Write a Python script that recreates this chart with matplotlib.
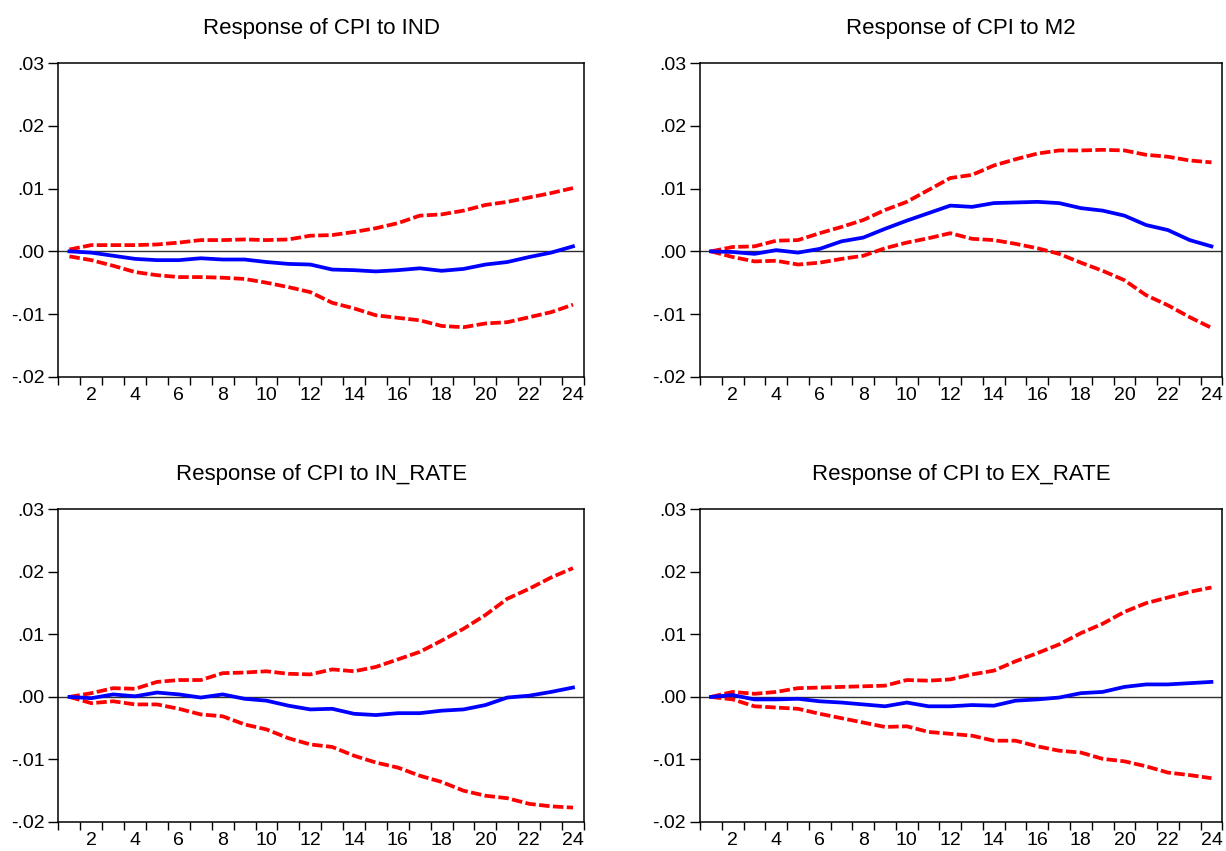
import numpy as np
import matplotlib.pyplot as plt
from matplotlib.ticker import FixedLocator, FuncFormatter

plt.rcParams['font.family'] = ['Liberation Sans', 'DejaVu Sans']

periods = np.arange(1, 25)

titles = ['Response of CPI to IND', 'Response of CPI to M2',
          'Response of CPI to IN_RATE', 'Response of CPI to EX_RATE']

# impulse responses (point estimate)
ind_mid = [0.0000, -0.0002, -0.0007, -0.0012, -0.0014, -0.0014, -0.0011, -0.0013,
           -0.0013, -0.0017, -0.0020, -0.0021, -0.0029, -0.0030, -0.0032, -0.0030,
           -0.0027, -0.0031, -0.0028, -0.0021, -0.0017, -0.0009, -0.0002, 0.0008]
ind_hi = [0.0003, 0.0010, 0.0010, 0.0010, 0.0011, 0.0014, 0.0018, 0.0018,
          0.0019, 0.0018, 0.0019, 0.0025, 0.0026, 0.0031, 0.0037, 0.0045,
          0.0057, 0.0059, 0.0065, 0.0074, 0.0079, 0.0086, 0.0093, 0.0101]
ind_lo = [-0.0008, -0.0014, -0.0023, -0.0033, -0.0038, -0.0041, -0.0041, -0.0042,
          -0.0044, -0.0050, -0.0057, -0.0065, -0.0082, -0.0091, -0.0102, -0.0106,
          -0.0110, -0.0119, -0.0121, -0.0115, -0.0113, -0.0105, -0.0097, -0.0085]

m2_mid = [0.0000, -0.0001, -0.0004, 0.0002, -0.0002, 0.0004, 0.0016, 0.0022,
          0.0036, 0.0049, 0.0061, 0.0073, 0.0071, 0.0077, 0.0078, 0.0079,
          0.0077, 0.0069, 0.0065, 0.0057, 0.0042, 0.0034, 0.0018, 0.0008]
m2_hi = [0.0000, 0.0007, 0.0008, 0.0017, 0.0018, 0.0029, 0.0039, 0.0050,
         0.0066, 0.0079, 0.0098, 0.0117, 0.0122, 0.0137, 0.0147, 0.0156,
         0.0161, 0.0161, 0.0162, 0.0161, 0.0154, 0.0151, 0.0145, 0.0142]
m2_lo = [0.0000, -0.0009, -0.0016, -0.0015, -0.0021, -0.0018, -0.0012, -0.0007,
         0.0005, 0.0014, 0.0021, 0.0029, 0.0020, 0.0018, 0.0012, 0.0005,
         -0.0004, -0.0018, -0.0031, -0.0046, -0.0070, -0.0086, -0.0105, -0.0122]

inr_mid = [0.0000, -0.0002, 0.0004, 0.0001, 0.0007, 0.0004, -0.0001, 0.0004,
           -0.0003, -0.0006, -0.0014, -0.0020, -0.0019, -0.0027, -0.0029, -0.0026,
           -0.0026, -0.0022, -0.0020, -0.0013, -0.0001, 0.0002, 0.0008, 0.0015]
inr_hi = [0.0000, 0.0006, 0.0014, 0.0013, 0.0024, 0.0027, 0.0027, 0.0038,
          0.0039, 0.0041, 0.0037, 0.0036, 0.0044, 0.0041, 0.0048, 0.0060,
          0.0072, 0.0090, 0.0109, 0.0131, 0.0157, 0.0173, 0.0191, 0.0206]
inr_lo = [0.0000, -0.0010, -0.0007, -0.0012, -0.0012, -0.0019, -0.0028, -0.0031,
          -0.0044, -0.0052, -0.0066, -0.0076, -0.0080, -0.0094, -0.0105, -0.0113,
          -0.0126, -0.0136, -0.0150, -0.0158, -0.0162, -0.0171, -0.0175, -0.0177]

exr_mid = [0.0000, 0.0003, -0.0004, -0.0004, -0.0003, -0.0007, -0.0009, -0.0012,
           -0.0015, -0.0009, -0.0015, -0.0015, -0.0013, -0.0014, -0.0006, -0.0004,
           -0.0001, 0.0006, 0.0008, 0.0016, 0.0020, 0.0020, 0.0022, 0.0024]
exr_hi = [0.0000, 0.0008, 0.0005, 0.0008, 0.0014, 0.0015, 0.0016, 0.0017,
          0.0018, 0.0027, 0.0026, 0.0028, 0.0036, 0.0042, 0.0057, 0.0070,
          0.0084, 0.0102, 0.0117, 0.0136, 0.0150, 0.0159, 0.0168, 0.0175]
exr_lo = [0.0000, -0.0004, -0.0015, -0.0017, -0.0019, -0.0027, -0.0034, -0.0041,
          -0.0048, -0.0047, -0.0056, -0.0059, -0.0062, -0.0070, -0.0070, -0.0079,
          -0.0086, -0.0089, -0.0099, -0.0103, -0.0111, -0.0121, -0.0125, -0.0130]

panels = [(ind_mid, ind_lo, ind_hi), (m2_mid, m2_lo, m2_hi),
          (inr_mid, inr_lo, inr_hi), (exr_mid, exr_lo, exr_hi)]

fig = plt.figure(figsize=(12.26, 8.51), dpi=100)

# axes boxes in figure fractions [left, bottom, width, height]
boxes = [[0.0477, 0.5573, 0.4286, 0.3683],
         [0.5710, 0.5573, 0.4260, 0.3683],
         [0.0477, 0.0341, 0.4286, 0.3674],
         [0.5710, 0.0341, 0.4260, 0.3674]]


def fmt_y(v, pos):
    s = '%.2f' % v
    s = s.replace('0.', '.', 1)
    return s


for box, title, (mid, lo, hi) in zip(boxes, titles, panels):
    ax = fig.add_axes(box)
    ax.axhline(0, color='#303030', linewidth=1.0, zorder=1)
    for band in (hi, lo):
        ax.plot(periods, band, color='#ff0000', linewidth=2.7,
                linestyle=(0, (2.8, 0.9)), dash_capstyle='butt', zorder=2)
    ax.plot(periods, mid, color='#0000ff', linewidth=2.7, zorder=3)

    ax.set_xlim(0.5, 24.5)
    ax.set_ylim(-0.02, 0.03)
    ax.set_yticks([-0.02, -0.01, 0.0, 0.01, 0.02, 0.03])
    ax.yaxis.set_major_formatter(FuncFormatter(fmt_y))

    # tick marks at period boundaries, labels at even periods
    ax.xaxis.set_major_locator(FixedLocator(np.arange(2, 25, 2)))
    ax.xaxis.set_minor_locator(FixedLocator(np.arange(0.5, 25, 1)))
    ax.tick_params(axis='x', which='major', length=0, pad=7.5, labelsize=14)
    ax.tick_params(axis='x', which='minor', length=6, width=1, direction='out')
    ax.tick_params(axis='y', length=7, width=1, pad=3, labelsize=14)

    for sp in ax.spines.values():
        sp.set_linewidth(1.1)
        sp.set_color('black')

    ax.set_title(title, fontsize=16, pad=21)

fig.savefig('out.png', dpi=100)
